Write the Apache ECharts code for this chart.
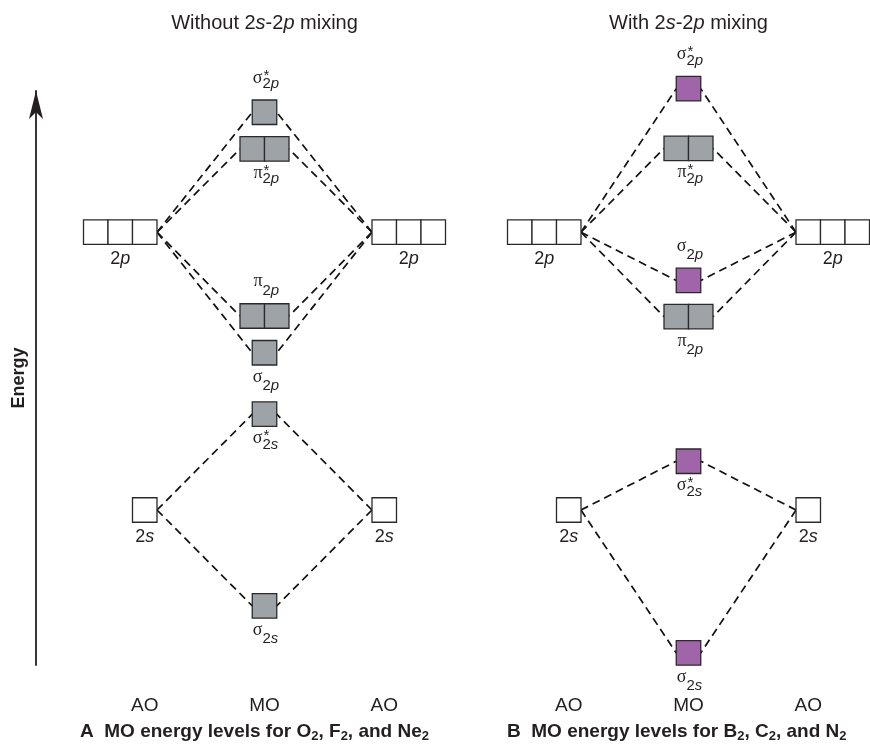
<!DOCTYPE html>
<html><head><meta charset="utf-8">
<script src="https://cdn.jsdelivr.net/npm/echarts@6/dist/echarts.min.js"></script>
<style>html,body{margin:0;padding:0;background:#fff}#c{width:870px;height:746px}</style>
</head><body><div id="c"></div>
<script>
// ---------------- data ----------------
const panelTitles = ['Without 2s-2p mixing', 'With 2s-2p mixing'];
const panelLetters = ['A', 'B'];
const panelMolecules = [['O', 'F', 'Ne'], ['B', 'C', 'N']];
const columnLabels = ['AO', 'MO', 'AO'];
const energyLabel = 'Energy';

// atomic orbitals (same for both atoms, both panels)
const aoShells = ['2p', '2s'];
const aoEnergy = [75.4, 27.0];
const aoBoxCount = [3, 1];

// molecular orbitals, panel A (O2, F2, Ne2)
const moNamesA = ['σ*2p', 'π*2p', 'π2p', 'σ2p', 'σ*2s', 'σ2s'];
const moEnergyA = [96.3, 89.9, 60.8, 54.4, 43.7, 10.3];
const moBoxCountA = [1, 2, 2, 1, 1, 1];

// molecular orbitals, panel B (B2, C2, N2)
const moNamesB = ['σ*2p', 'π*2p', 'σ2p', 'π2p', 'σ*2s', 'σ2s'];
const moEnergyB = [100.4, 90.0, 67.0, 60.7, 35.5, 2.1];
const moBoxCountB = [1, 2, 1, 2, 1, 1];

// ---------------- style ----------------
const SANS = "'Liberation Sans', Arial, Helvetica, sans-serif";
const SERIF = "'Liberation Serif', 'Times New Roman', serif";
const INK = '#231f20';
const BOX = 24.5;
const GRAY = '#9ea3a8', PURPLE = '#a064a8';
const GRID_TOP = 91, GRID_H = 574, GRID_W = 215;
const GRID_LEFT = [157, 581];
const moLabelSide = ['above', 'below', 'above', 'below', 'below', 'below'];
const DASH = [8, 5];

function boxFill(panel, name) { return panel === 1 && name[0] === 'σ' ? PURPLE : GRAY; }

function richOrbital(s, base, ital) {
  return s.split(/(2[sp])/).filter(t => t).map(t =>
    /^2[sp]$/.test(t) ? `{${base}|2}{${ital}|${t[1]}}` : `{${base}|${t}}`).join('');
}

function moLabel(name, cx, top, bottom, side) {
  const sym = name[0], star = name.indexOf('*') >= 0, sub = name.slice(star ? 2 : 1);
  const m = side === 'above' ? top - 22 : bottom + 12;
  const subY = m + (star ? 6 : 9);
  const els = [
    { type: 'text', style: { text: sym, x: cx - 2, y: m, align: 'right', verticalAlign: 'middle',
        font: `18px ${SERIF}`, fill: INK } },
    { type: 'text', style: { text: `{n|2}{i|${sub[1]}}`, x: cx - 2, y: subY, align: 'left', verticalAlign: 'middle',
        fill: INK, font: `15px ${SANS}`,
        rich: { n: { fontSize: 15, fontFamily: SANS, fill: INK },
                i: { fontSize: 15, fontFamily: SANS, fontStyle: 'italic', fill: INK } } } }
  ];
  if (star) els.push({ type: 'text', style: { text: '*', x: cx - 1, y: m - 2.5, align: 'left', verticalAlign: 'middle',
      font: `15px ${SANS}`, fill: INK } });
  return els;
}

function boxes(x0, yc, n, fill) {
  const out = [];
  for (let i = 0; i < n; i++) {
    out.push({ type: 'rect', shape: { x: x0 + i * BOX, y: yc - BOX / 2, width: BOX, height: BOX },
      style: { fill: fill, stroke: '#2a2a2a', lineWidth: 1.3 } });
  }
  return out;
}

function buildPanel(p) {
  const names = p === 0 ? moNamesA : moNamesB;
  const energy = p === 0 ? moEnergyA : moEnergyB;
  const counts = p === 0 ? moBoxCountA : moBoxCountB;
  const axisIdx = { xAxisIndex: p, yAxisIndex: p };

  // connection lines: [aoCol, aoEnergy, 1, moEnergy, moBoxCount]
  const connData = [];
  names.forEach((nm, i) => {
    const shell = nm.slice(-2);
    const a = aoShells.indexOf(shell);
    connData.push([0, aoEnergy[a], 1, energy[i], counts[i]]);
    connData.push([2, aoEnergy[a], 1, energy[i], counts[i]]);
  });
  const conn = Object.assign({
    type: 'custom', silent: true, z: 1, data: connData,
    renderItem: function (params, api) {
      const col = api.value(0);
      const a = api.coord([col, api.value(1)]);
      const m = api.coord([api.value(2), api.value(3)]);
      const half = api.value(4) * BOX / 2;
      const mx = col === 0 ? m[0] - half : m[0] + half;
      return { type: 'line', shape: { x1: a[0], y1: a[1], x2: mx, y2: m[1] },
        style: { stroke: '#111', lineWidth: 1.7, lineDash: DASH } };
    }
  }, axisIdx);

  // molecular orbitals
  const moData = names.map((nm, i) => [1, energy[i], counts[i]]);
  const mo = Object.assign({
    type: 'custom', silent: true, z: 3, data: moData,
    renderItem: function (params, api) {
      const c = api.coord([api.value(0), api.value(1)]);
      const n = api.value(2);
      const nm = names[params.dataIndex];
      const w = n * BOX;
      const children = boxes(c[0] - w / 2, c[1], n, boxFill(p, nm))
        .concat(moLabel(nm, c[0], c[1] - BOX / 2, c[1] + BOX / 2, moLabelSide[params.dataIndex]));
      return { type: 'group', children: children };
    }
  }, axisIdx);

  // atomic orbitals: [col, energy, boxCount]
  const aoData = [];
  aoShells.forEach((s, i) => { aoData.push([0, aoEnergy[i], aoBoxCount[i]]); aoData.push([2, aoEnergy[i], aoBoxCount[i]]); });
  const ao = Object.assign({
    type: 'custom', silent: true, z: 3, data: aoData,
    renderItem: function (params, api) {
      const col = api.value(0);
      const c = api.coord([col, api.value(1)]);
      const n = api.value(2);
      const w = n * BOX;
      const x0 = col === 0 ? c[0] - w : c[0];
      const shell = aoShells[Math.floor(params.dataIndex / 2)];
      const children = boxes(x0, c[1], n, '#ffffff');
      children.push({ type: 'text', style: { text: `{n|2}{i|${shell[1]}}`, x: x0 + w / 2, y: c[1] + BOX / 2 + 15,
        align: 'center', verticalAlign: 'middle', fill: INK, font: `18px ${SANS}`,
        rich: { n: { fontSize: 18, fontFamily: SANS, fill: INK },
                i: { fontSize: 18, fontFamily: SANS, fontStyle: 'italic', fill: INK } } } });
      return { type: 'group', children: children };
    }
  }, axisIdx);

  // column labels AO / MO / AO
  const colData = columnLabels.map((t, i) => [i, 0]);
  const cols = Object.assign({
    type: 'custom', silent: true, z: 3, data: colData,
    renderItem: function (params, api) {
      const col = api.value(0);
      const c = api.coord([col, api.value(1)]);
      const dx = col === 0 ? -BOX / 2 : (col === 2 ? BOX / 2 : 0);
      return { type: 'text', style: { text: columnLabels[params.dataIndex], x: c[0] + dx, y: c[1] + 41,
        align: 'center', verticalAlign: 'middle', font: `19px ${SANS}`, fill: INK } };
    }
  }, axisIdx);

  return [conn, mo, ao, cols];
}

const chart = echarts.init(document.getElementById('c'), null, { renderer: 'canvas' });

const titleRich = {
  r: { fontSize: 20, fontWeight: 'normal', fontFamily: SANS, color: INK },
  i: { fontSize: 20, fontWeight: 'normal', fontFamily: SANS, fontStyle: 'italic', color: INK }
};
const capRich = {
  b: { fontSize: 19, fontWeight: 'bold', fontFamily: SANS, color: INK, lineHeight: 22 },
  s: { fontSize: 13, fontWeight: 'bold', fontFamily: SANS, color: INK, verticalAlign: 'bottom' }
};
function caption(p) {
  const m = panelMolecules[p];
  return `{b|${panelLetters[p]}  MO energy levels for ${m[0]}}{s|2}{b|, ${m[1]}}{s|2}{b|, and ${m[2]}}{s|2}`;
}
const titleText = { fontWeight: 'normal', fontSize: 20, fontFamily: SANS, color: INK, rich: titleRich };

const option = {
  backgroundColor: '#ffffff',
  animation: false,
  title: [
    { text: richOrbital(panelTitles[0], 'r', 'i'), left: 264.5, top: 13, textAlign: 'center', padding: 0, textStyle: titleText },
    { text: richOrbital(panelTitles[1], 'r', 'i'), left: 688.5, top: 13, textAlign: 'center', padding: 0, textStyle: titleText },
    { text: caption(0), left: 80, top: 721, padding: 0, textStyle: { rich: capRich } },
    { text: caption(1), left: 507, top: 721, padding: 0, textStyle: { rich: capRich } }
  ],
  grid: [
    { left: GRID_LEFT[0], top: GRID_TOP, width: GRID_W, height: GRID_H },
    { left: GRID_LEFT[1], top: GRID_TOP, width: GRID_W, height: GRID_H }
  ],
  xAxis: [
    { gridIndex: 0, type: 'value', min: 0, max: 2, show: false },
    { gridIndex: 1, type: 'value', min: 0, max: 2, show: false }
  ],
  yAxis: [
    { gridIndex: 0, type: 'value', min: 0, max: 100, offset: 121,
      name: energyLabel, nameLocation: 'middle', nameGap: 8,
      nameTextStyle: { fontSize: 18, fontWeight: 'bold', fontFamily: SANS, color: INK },
      axisLine: { show: true, onZero: false, symbol: ['none', 'arrow'], symbolSize: [10.5, 28],
        lineStyle: { color: INK, width: 1.8 } },
      axisTick: { show: false }, axisLabel: { show: false }, splitLine: { show: false } },
    { gridIndex: 1, type: 'value', min: 0, max: 100, show: false, splitLine: { show: false } }
  ],
  series: buildPanel(0).concat(buildPanel(1))
};
chart.setOption(option);
</script>
</body></html>
